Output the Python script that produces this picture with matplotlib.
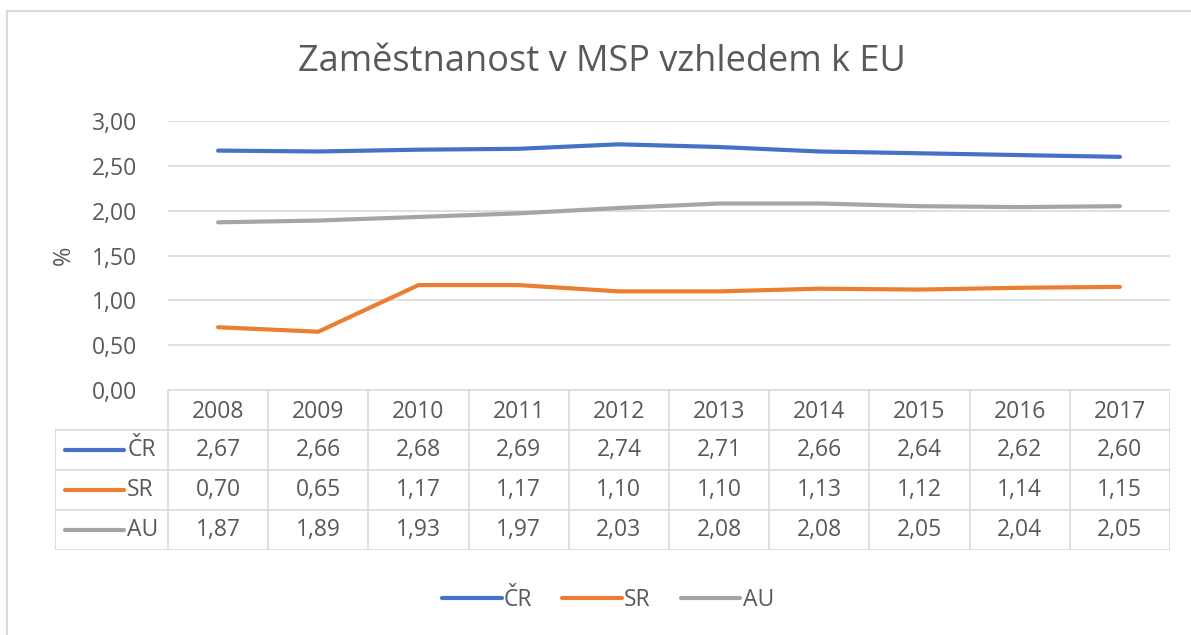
import matplotlib
matplotlib.use("Agg")
import matplotlib.pyplot as plt
from matplotlib.lines import Line2D
from matplotlib.patches import Rectangle

# data
years = ["2008", "2009", "2010", "2011", "2012", "2013", "2014", "2015", "2016", "2017"]
series_names = ["ČR", "SR", "AU"]
cr = [2.67, 2.66, 2.68, 2.69, 2.74, 2.71, 2.66, 2.64, 2.62, 2.60]
sr = [0.70, 0.65, 1.17, 1.17, 1.10, 1.10, 1.13, 1.12, 1.14, 1.15]
au = [1.87, 1.89, 1.93, 1.97, 2.03, 2.08, 2.08, 2.05, 2.04, 2.05]
yticks = [0, 0.5, 1.0, 1.5, 2.0, 2.5, 3.0]

colors = ["#4472C4", "#ED7D31", "#A5A5A5"]
text_col = "#595959"
grid_col = "#D9D9D9"
fs = 16.5
plt.rcParams['font.family'] = ['Open Sans', 'DejaVu Sans']

W, H = 1191, 635
fig = plt.figure(figsize=(W / 100, H / 100), dpi=100)

def fx(px):
    return px / W

def fy(py):
    return 1 - py / H

# chart frame
fig.patches.append(Rectangle((fx(7), fy(640)), fx(1200), fy(11) - fy(640),
                             transform=fig.transFigure, fill=False,
                             edgecolor="#D9D9D9", linewidth=1.5))

fig.text(fx(602), fy(62), "Zaměstnanost v MSP vzhledem k EU", ha="center", va="center",
         fontsize=26, color=text_col)

# line plot area
left, right, top, bottom = 168, 1170, 121, 390
ax = fig.add_axes([fx(left), fy(bottom), fx(right - left), fy(top) - fy(bottom)])
x = list(range(len(years)))
for vals, c, name in zip([cr, sr, au], colors, series_names):
    ax.plot(x, vals, color=c, linewidth=3, solid_capstyle="round", label=name)
ax.set_xlim(-0.5, len(years) - 0.5)
ax.set_ylim(0, 3)
ax.set_yticks(yticks)
ax.set_yticklabels([f"{v:.2f}".replace(".", ",") for v in yticks], fontsize=fs, color=text_col)
ax.tick_params(axis="y", length=0, pad=22)
ax.set_xticks([])
for s in ax.spines.values():
    s.set_visible(False)
ax.yaxis.grid(True, color=grid_col, linewidth=1.2)
ax.set_axisbelow(True)
ax.set_ylabel("%", fontsize=17, color=text_col, labelpad=12)

# data table
colw = (right - left) / len(years)
first_w = (left - 55) / colw
tab = fig.add_axes([fx(55), fy(550), fx(right - 55), fy(390) - fy(550)])
tab.set_xlim(-first_w, len(years))
tab.set_ylim(4, 0)
tab.axis("off")
lk = dict(color=grid_col, linewidth=1.2)
tab.plot([0, len(years)], [0, 0], **lk)
for r in range(1, 5):
    tab.plot([-first_w, len(years)], [r, r], **lk)
tab.plot([-first_w, -first_w], [1, 4], **lk)
for c in range(len(years) + 1):
    tab.plot([c, c], [0, 4], **lk)
for i, yr in enumerate(years):
    tab.text(i + 0.5, 0.55, yr, ha="center", va="center", fontsize=fs, color=text_col)
for r, (vals, c, name) in enumerate(zip([cr, sr, au], colors, series_names), start=1):
    for i, v in enumerate(vals):
        tab.text(i + 0.5, r + 0.5, f"{v:.2f}".replace(".", ","), ha="center", va="center",
                 fontsize=fs, color=text_col)
    tab.plot([-first_w + 0.1, -first_w + 0.69], [r + 0.5, r + 0.5], color=c, linewidth=3,
             solid_capstyle="round")
    tab.text(-first_w + 0.72, r + 0.5, name, ha="left", va="center", fontsize=fs, color=text_col)

# legend
handles = [Line2D([0], [0], color=c, linewidth=3, solid_capstyle="round") for c in colors]
fig.legend(handles, series_names, loc="center", bbox_to_anchor=(fx(608), fy(600)), ncol=3,
           frameon=False, fontsize=fs, labelcolor=text_col, handlelength=2.6,
           handletextpad=0.1, columnspacing=1.3)

fig.savefig("out.png", dpi=100)
